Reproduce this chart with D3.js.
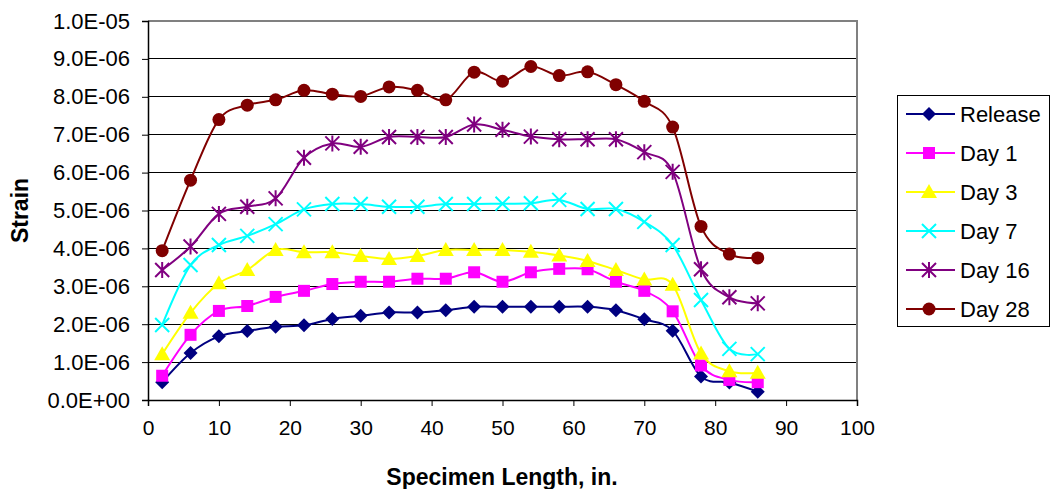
<!DOCTYPE html>
<html>
<head>
<meta charset="utf-8">
<script src="https://cdn.jsdelivr.net/npm/d3@7/dist/d3.min.js"></script>
<style>
  html, body { margin: 0; padding: 0; background: #fff; }
  svg { display: block; font-family: "Liberation Sans", Arial, sans-serif; }
</style>
</head>
<body>
<svg id="chart" width="1051" height="489"></svg>
<script>
// Gauge positions along the specimen (in.)
const positions = [2, 6, 10, 14, 18, 22, 26, 30, 34, 38, 42, 46, 50, 54, 58, 62, 66, 70, 74, 78, 82, 86];

// Strain readings (x 1e-6) per reading day
const release = [0.47, 1.24, 1.68, 1.82, 1.93, 1.97, 2.14, 2.22, 2.31, 2.31, 2.37, 2.46, 2.46, 2.46, 2.46, 2.46, 2.37, 2.13, 1.83, 0.62, 0.46, 0.22];
const day1    = [0.64, 1.72, 2.35, 2.48, 2.72, 2.88, 3.06, 3.12, 3.12, 3.20, 3.20, 3.37, 3.12, 3.37, 3.46, 3.45, 3.12, 2.88, 2.34, 0.91, 0.53, 0.47];
const day3    = [1.21, 2.30, 3.08, 3.43, 3.96, 3.90, 3.90, 3.80, 3.72, 3.80, 3.96, 3.96, 3.96, 3.91, 3.81, 3.67, 3.43, 3.18, 3.04, 1.23, 0.76, 0.72];
const day7    = [1.98, 3.56, 4.09, 4.33, 4.64, 5.03, 5.17, 5.17, 5.10, 5.10, 5.17, 5.17, 5.18, 5.19, 5.28, 5.04, 5.04, 4.70, 4.09, 2.64, 1.35, 1.21];
const day16   = [3.43, 4.05, 4.91, 5.10, 5.32, 6.39, 6.77, 6.68, 6.94, 6.94, 6.94, 7.27, 7.13, 6.95, 6.88, 6.88, 6.88, 6.54, 6.02, 3.45, 2.71, 2.55];
const day28   = [3.94, 5.80, 7.40, 7.78, 7.92, 8.17, 8.07, 8.01, 8.26, 8.17, 7.92, 8.65, 8.41, 8.80, 8.56, 8.66, 8.32, 7.88, 7.20, 4.58, 3.85, 3.75];

const seriesNames = ["Release", "Day 1", "Day 3", "Day 7", "Day 16", "Day 28"];
const seriesValues = [release, day1, day3, day7, day16, day28];
const seriesColors = ["#000080", "#FF00FF", "#FFFF00", "#00FFFF", "#800080", "#800000"];
const seriesMarkers = ["diamond", "square", "triangle", "cross", "star", "circle"];

const xTicks = [0, 10, 20, 30, 40, 50, 60, 70, 80, 90, 100];
const yTicks = [0, 1e-6, 2e-6, 3e-6, 4e-6, 5e-6, 6e-6, 7e-6, 8e-6, 9e-6, 1e-5];
const yTickLabels = ["0.0E+00", "1.0E-06", "2.0E-06", "3.0E-06", "4.0E-06", "5.0E-06", "6.0E-06", "7.0E-06", "8.0E-06", "9.0E-06", "1.0E-05"];

const svg = d3.select("#chart");
const plot = { left: 148, top: 21, right: 857, bottom: 400 };

const x = d3.scaleLinear().domain([0, 100]).range([plot.left, plot.right]);
const y = d3.scaleLinear().domain([0, 1e-5]).range([plot.bottom, plot.top]);

// Horizontal gridlines
svg.append("g")
  .selectAll("line")
  .data(yTicks.slice(1, -1))
  .join("line")
  .attr("x1", plot.left).attr("x2", plot.right)
  .attr("y1", d => y(d)).attr("y2", d => y(d))
  .attr("stroke", "#000").attr("stroke-width", 1).attr("shape-rendering", "crispEdges");

// Plot area frame (top and right)
svg.append("path")
  .attr("d", `M${plot.left},${plot.top}H${plot.right}V${plot.bottom}`)
  .attr("fill", "none").attr("stroke", "#808080").attr("stroke-width", 2);

// Y axis
const yAxis = d3.axisLeft(y).tickValues(yTicks).tickSize(6).tickPadding(12)
  .tickFormat((d, i) => yTickLabels[i]);
const gy = svg.append("g").attr("transform", `translate(${plot.left},0)`).call(yAxis);
gy.select(".domain").attr("stroke", "#000").attr("stroke-width", 1.5);
gy.selectAll(".tick line").attr("stroke", "#000");
gy.selectAll(".tick text").attr("font-size", 22).attr("fill", "#000")
  .attr("font-family", "'Liberation Sans', Arial, sans-serif");

// X axis
const xAxis = d3.axisBottom(x).tickValues(xTicks).tickSize(6).tickPadding(14)
  .tickFormat(d3.format("d"));
const gx = svg.append("g").attr("transform", `translate(0,${plot.bottom})`).call(xAxis);
gx.select(".domain").attr("stroke", "#000").attr("stroke-width", 1.5);
gx.selectAll(".tick line").attr("stroke", "#000");
gx.selectAll(".tick text").attr("font-size", 21).attr("fill", "#000")
  .attr("font-family", "'Liberation Sans', Arial, sans-serif");

// Axis titles
svg.append("text")
  .attr("x", 502).attr("y", 485)
  .attr("text-anchor", "middle").attr("font-size", 23).attr("font-weight", "bold")
  .text("Specimen Length, in.");
svg.append("text")
  .attr("transform", `translate(28,${(plot.top + plot.bottom) / 2}) rotate(-90)`)
  .attr("text-anchor", "middle").attr("font-size", 23).attr("font-weight", "bold")
  .text("Strain");

// Marker shapes
function drawMarker(g, type, color) {
  if (type === "diamond") {
    g.append("path").attr("d", "M0,-7L7,0L0,7L-7,0Z").attr("fill", color);
  } else if (type === "square") {
    g.append("rect").attr("x", -6).attr("y", -6).attr("width", 12).attr("height", 12).attr("fill", color);
  } else if (type === "triangle") {
    g.append("path").attr("d", "M0,-8L8,6L-8,6Z").attr("fill", color);
  } else if (type === "cross") {
    g.append("path").attr("d", "M-7,-7L7,7M-7,7L7,-7").attr("stroke", color).attr("stroke-width", 2);
  } else if (type === "star") {
    g.append("path").attr("d", "M-7,-7L7,7M-7,7L7,-7M0,-8V8").attr("stroke", color).attr("stroke-width", 2);
  } else if (type === "circle") {
    g.append("circle").attr("r", 6.5).attr("fill", color);
  }
}

const line = d3.line()
  .x(d => x(d.x)).y(d => y(d.v))
  .curve(d3.curveCatmullRom.alpha(0));

seriesValues.forEach((vals, si) => {
  const pts = positions.map((p, i) => ({ x: p, v: vals[i] * 1e-6 }));
  const g = svg.append("g");
  g.append("path").datum(pts)
    .attr("d", line).attr("fill", "none")
    .attr("stroke", seriesColors[si]).attr("stroke-width", 2);
  g.selectAll("g.m").data(pts).join("g").attr("class", "m")
    .attr("transform", d => `translate(${x(d.x)},${y(d.v)})`)
    .each(function () { drawMarker(d3.select(this), seriesMarkers[si], seriesColors[si]); });
});

// Legend
const legend = svg.append("g");
legend.append("rect")
  .attr("x", 897.5).attr("y", 95.5).attr("width", 152).attr("height", 231)
  .attr("fill", "#fff").attr("stroke", "#000").attr("stroke-width", 1);
seriesNames.forEach((name, i) => {
  const cy = 114 + i * 39;
  const row = legend.append("g");
  row.append("line").attr("x1", 906).attr("x2", 955).attr("y1", cy).attr("y2", cy)
    .attr("stroke", seriesColors[i]).attr("stroke-width", 2);
  drawMarker(row.append("g").attr("transform", `translate(929,${cy})`), seriesMarkers[i], seriesColors[i]);
  row.append("text").attr("x", 960).attr("y", cy + 8)
    .attr("font-size", 22).attr("fill", "#000").text(name);
});
</script>
</body>
</html>
